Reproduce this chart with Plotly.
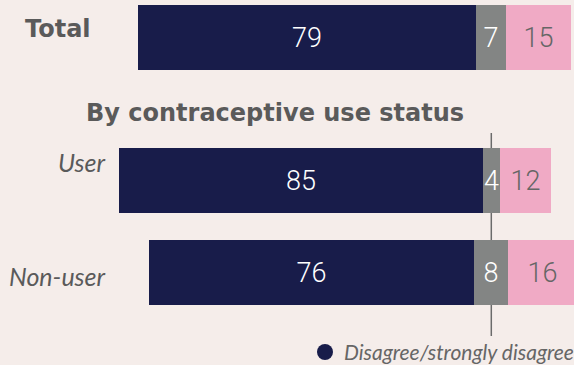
import plotly.graph_objects as go

# ---- data ----
categories = ["Total", "User", "Non-user"]
disagree = [79, 85, 76]   # Disagree/strongly disagree
neutral = [7, 4, 8]       # Neutral
agree = [15, 12, 16]      # Agree/strongly agree
legend_label = "Disagree/strongly disagree"
section_title = "By contraceptive use status"

# ---- layout constants ----
W, H = 574, 365
row_y = [37, 180, 272]      # vertical pixel position of each row
bar_h = 65
center_px = 491.3
px_per_unit = 4.283

NAVY = "#181C4A"
GREY = "#838584"
PINK = "#F0AAC5"
BG = "#F5EDEA"
TXT = "#5A5A5A"

num_font = dict(family="Roboto", size=27, weight=300)
head_font = dict(family="DejaVu Sans", size=24, color=TXT)

navy_base = [-(d + n / 2) for d, n in zip(disagree, neutral)]
grey_base = [-n / 2 for n in neutral]
pink_base = [n / 2 for n in neutral]

fig = go.Figure()
common = dict(orientation="h", width=bar_h, textposition="inside",
              insidetextanchor="middle", constraintext="none",
              hoverinfo="skip", showlegend=False)
fig.add_bar(y=row_y, x=disagree, base=navy_base, marker=dict(color=NAVY, line_width=0),
            text=[str(v) for v in disagree], textfont=dict(color="white", **num_font), **common)
fig.add_bar(y=row_y, x=neutral, base=grey_base, marker=dict(color=GREY, line_width=0),
            text=[str(v) for v in neutral], textfont=dict(color="white", **num_font), **common)
fig.add_bar(y=row_y, x=agree, base=pink_base, marker=dict(color=PINK, line_width=0),
            text=[str(v) for v in agree], textfont=dict(color="#666666", **num_font), **common)

xmin = -center_px / px_per_unit
xmax = (W - center_px) / px_per_unit

annotations = [
    dict(text=f"<b>{categories[0]}</b>", x=23 / W, y=29, xanchor="left", font=head_font),
    dict(text=f"<i>{categories[1]}</i>", x=108 / W, y=162, xanchor="right",
         font=dict(family="Lato", size=25, color=TXT)),
    dict(text=f"<i>{categories[2]}</i>", x=108 / W, y=276, xanchor="right",
         font=dict(family="Lato", size=25, color=TXT)),
    dict(text=f"<b>{section_title}</b>", x=275 / W, y=113, xanchor="center", font=head_font),
    dict(text=f"<i>{legend_label}</i>", x=342 / W, y=351, xanchor="left",
         font=dict(family="Lato", size=21, color="#666666")),
]
for a in annotations:
    a.update(xref="paper", yref="y", yanchor="middle", showarrow=False)

shapes = [
    dict(type="line", xref="x", yref="y", x0=0, x1=0, y0=133, y1=336,
         line=dict(color="#6B6B6B", width=1.5), layer="below"),
    dict(type="circle", xref="paper", yref="y", x0=317 / W, x1=333 / W, y0=344, y1=360,
         fillcolor=NAVY, line_width=0),
]

fig.update_layout(
    width=W, height=H, margin=dict(l=0, r=0, t=0, b=0),
    paper_bgcolor=BG, plot_bgcolor=BG, barmode="overlay", bargap=0,
    xaxis=dict(range=[xmin, xmax], visible=False, fixedrange=True),
    yaxis=dict(range=[H, 0], visible=False, fixedrange=True),
    annotations=annotations, shapes=shapes,
)

fig.write_html("out.html")
